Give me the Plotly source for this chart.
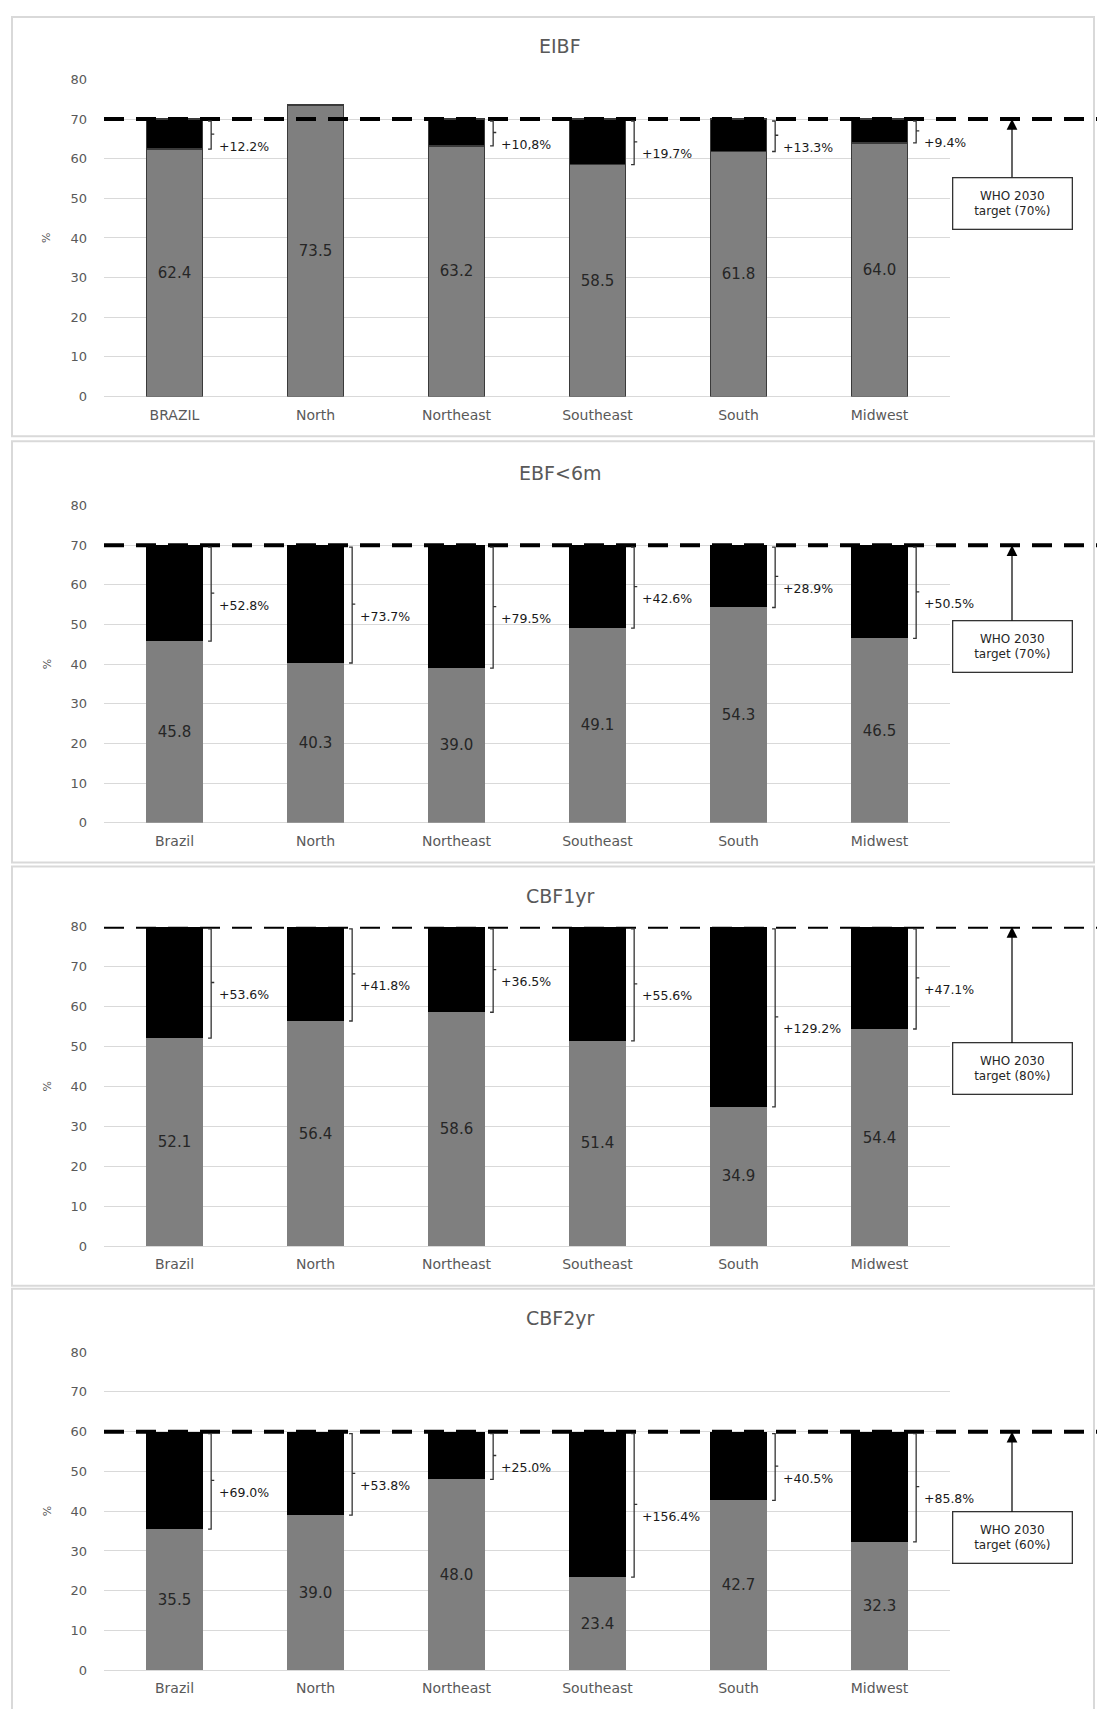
import plotly.graph_objects as go

# ---------------- data ----------------
categories_top = ["BRAZIL", "North", "Northeast", "Southeast", "South", "Midwest"]
categories = ["Brazil", "North", "Northeast", "Southeast", "South", "Midwest"]

panel_titles = ["EIBF", "EBF<6m", "CBF1yr", "CBF2yr"]
targets = [70, 70, 80, 60]

eibf = [62.4, 73.5, 63.2, 58.5, 61.8, 64.0]
ebf6m = [45.8, 40.3, 39.0, 49.1, 54.3, 46.5]
cbf1yr = [52.1, 56.4, 58.6, 51.4, 34.9, 54.4]
cbf2yr = [35.5, 39.0, 48.0, 23.4, 42.7, 32.3]

gap_eibf = ["+12.2%", "", "+10,8%", "+19.7%", "+13.3%", "+9.4%"]
gap_ebf6m = ["+52.8%", "+73.7%", "+79.5%", "+42.6%", "+28.9%", "+50.5%"]
gap_cbf1yr = ["+53.6%", "+41.8%", "+36.5%", "+55.6%", "+129.2%", "+47.1%"]
gap_cbf2yr = ["+69.0%", "+53.8%", "+25.0%", "+156.4%", "+40.5%", "+85.8%"]

who_labels = ["WHO 2030<br>target (70%)", "WHO 2030<br>target (70%)",
              "WHO 2030<br>target (80%)", "WHO 2030<br>target (60%)"]

# ---------------- layout / style ----------------
W, H = 1097, 1709
values_all = [eibf, ebf6m, cbf1yr, cbf2yr]
gaps_all = [gap_eibf, gap_ebf6m, gap_cbf1yr, gap_cbf2yr]
cats_all = [categories_top, categories, categories, categories]

# plot area pixel positions (top of 80, bottom 0) per panel
plot_px = [(73, 393), (503, 823), (928, 1250), (1357, 1678)]
title_px = [39, 470, 897, 1323]
border_px = [(10, 433), (438, 863), (867, 1290), (1293, 1730)]
box_ay = [84, 101, 142, 106]
x_dom = [104 / W, 950 / W]

GRAY = "#7f7f7f"
TXT = "#595959"
FONT = "DejaVu Sans"

fig = go.Figure()
shapes = []
annotations = []

for p in range(4):
    vals = values_all[p]
    T = targets[p]
    xs = list(range(len(vals)))
    sfx = "" if p == 0 else str(p + 1)
    xa, ya = "x" + sfx, "y" + sfx
    line_w = 1.5 if p == 0 else 0
    fig.add_trace(go.Bar(
        x=xs, y=vals, width=0.4, xaxis=xa, yaxis=ya,
        marker=dict(color=GRAY, line=dict(color="#3a3a3a", width=line_w)),
        text=[f"{v:.1f}" for v in vals], textposition="inside",
        insidetextanchor="middle", textangle=0, constraintext="none",
        textfont=dict(family=FONT, size=15, color="#262626"),
        showlegend=False, hoverinfo="skip"))
    fig.add_trace(go.Bar(
        x=xs, y=[max(T - v, 0) for v in vals], width=0.4, xaxis=xa, yaxis=ya,
        marker=dict(color="black", line=dict(color="#3a3a3a", width=line_w)),
        showlegend=False, hoverinfo="skip"))

    top_px, bot_px = plot_px[p]
    fig.layout["xaxis" + sfx] = dict(
        domain=x_dom, anchor=ya, range=[-0.5, len(vals) - 0.5],
        tickvals=xs, ticktext=cats_all[p], showgrid=False, zeroline=False,
        showline=False, ticks="", ticklabelstandoff=8,
        tickfont=dict(family=FONT, size=14, color=TXT))
    fig.layout["yaxis" + sfx] = dict(
        domain=[1 - bot_px / H, 1 - top_px / H], anchor=xa, range=[0, 80],
        tickvals=list(range(0, 81, 10)), showgrid=True, gridcolor="#d9d9d9",
        gridwidth=1, zeroline=True, zerolinecolor="#d9d9d9", zerolinewidth=1,
        showline=False, ticks="", ticklabelstandoff=16,
        tickfont=dict(family=FONT, size=13, color=TXT))

    # dashed target line
    shapes.append(dict(type="line", xref="paper", yref=ya, x0=x_dom[0], x1=1.0,
                       y0=T, y1=T, line=dict(color="black", width=4, dash="20px,12px"),
                       layer="above"))
    # brackets & gap labels
    for i, v in enumerate(vals):
        if v >= T:
            continue
        xb = i + 0.26
        t = 0.022
        ytop = T - 0.5
        ymid = (T + v) / 2
        path = (f"M {xb - t},{ytop} L {xb},{ytop} L {xb},{v} L {xb - t},{v} "
                f"M {xb},{ymid} L {xb + t},{ymid}")
        shapes.append(dict(type="path", xref=xa, yref=ya, path=path,
                           line=dict(color="#333333", width=1.3), layer="above"))
        annotations.append(dict(x=i + 0.30, y=ymid, xref=xa, yref=ya,
                                text=gaps_all[p][i], showarrow=False,
                                xanchor="left", yanchor="middle", yshift=-12,
                                font=dict(family=FONT, size=12.5, color="#1a1a1a")))
    # title
    annotations.append(dict(x=560 / W, y=1 - title_px[p] / H, xref="paper", yref="paper",
                            text=panel_titles[p], showarrow=False,
                            xanchor="center", yanchor="middle",
                            font=dict(family=FONT, size=19, color=TXT)))
    # % axis label
    annotations.append(dict(x=47 / W, y=1 - (top_px + bot_px) / 2 / H, xref="paper",
                            yref="paper", text="%", textangle=-90, showarrow=False,
                            xanchor="center", yanchor="middle",
                            font=dict(family=FONT, size=11, color=TXT)))
    # WHO box with arrow
    annotations.append(dict(x=1012 / W, y=T, xref="paper", yref=ya,
                            text=who_labels[p], showarrow=True, ax=0, ay=box_ay[p],
                            arrowhead=2, arrowsize=1.8, arrowwidth=1.2, arrowcolor="black",
                            bordercolor="#333333", borderwidth=1.3, borderpad=4,
                            bgcolor="white", width=110, height=42,
                            font=dict(family=FONT, size=12, color="#262626")))
    # panel border
    b0, b1 = border_px[p]
    shapes.append(dict(type="rect", xref="paper", yref="paper",
                       x0=12 / W, x1=1094 / W, y0=1 - b1 / H, y1=1 - b0 / H,
                       line=dict(color="#d9d9d9", width=2), layer="below"))

fig.update_layout(
    width=W, height=H, margin=dict(l=0, r=0, t=0, b=0),
    paper_bgcolor="white", plot_bgcolor="white", barmode="stack",
    shapes=shapes, annotations=annotations, showlegend=False)

fig.write_html("out.html", config={"displayModeBar": False},
               post_script="document.body.style.margin='0';")
